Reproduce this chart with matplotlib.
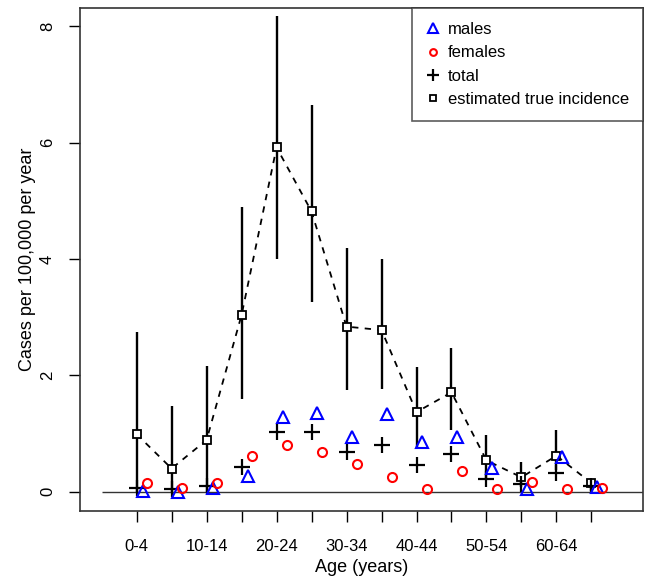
import matplotlib.pyplot as plt
import numpy as np

plt.rcParams['font.family'] = ['Liberation Sans', 'DejaVu Sans']

ages = ["0-4", "5-9", "10-14", "15-19", "20-24", "25-29", "30-34",
        "35-39", "40-44", "45-49", "50-54", "55-59", "60-64", "65-69"]
males = [0.01, 0.0, 0.07, 0.27, 1.28, 1.35, 0.94, 1.33, 0.85, 0.95, 0.41, 0.05, 0.60, 0.09]
females = [0.15, 0.07, 0.15, 0.62, 0.81, 0.68, 0.48, 0.26, 0.05, 0.36, 0.05, 0.17, 0.05, 0.07]
total = [0.07, 0.05, 0.10, 0.42, 1.03, 1.02, 0.69, 0.80, 0.46, 0.65, 0.22, 0.13, 0.32, 0.10]
est = [0.99, 0.40, 0.89, 3.04, 5.92, 4.82, 2.84, 2.78, 1.37, 1.71, 0.54, 0.25, 0.62, 0.15]
est_lo = [0.0, 0.0, 0.0, 1.60, 4.00, 3.26, 1.75, 1.76, 0.76, 1.07, 0.21, 0.09, 0.38, 0.02]
est_hi = [2.74, 1.47, 2.17, 4.90, 8.18, 6.65, 4.19, 4.00, 2.14, 2.48, 0.98, 0.51, 1.07, 0.22]

x = np.arange(1, len(ages) + 1)

fig = plt.figure(figsize=(6.5, 5.77), dpi=100)
ax = fig.add_axes([0.123, 0.1144, 0.866, 0.872])

ax.hlines(0, 0, 16, color='#333333', lw=1)
ax.vlines(x, est_lo, est_hi, color='black', lw=1.7)
ax.plot(x, est, color='black', ls=(0, (3.5, 3.5)), lw=1.3)
ax.plot(x, est, 's', mfc='white', mec='black', ms=5.5, mew=1.3, ls='none',
        label='estimated true incidence')
ax.plot(x, total, '+', color='black', ms=11, mew=1.6, ls='none', label='total')
ax.plot(x + 0.17, males, '^', mfc='none', mec='blue', ms=9, mew=1.5, ls='none',
        label='males')
ax.plot(x + 0.3, females, 'o', mfc='none', mec='red', ms=6.5, mew=1.5, ls='none',
        label='females')

ax.set_xlim(-0.62, 15.47)
ax.set_ylim(-0.33, 8.32)
ax.set_xticks(x)
ax.set_xticklabels([a if i % 2 == 0 else "" for i, a in enumerate(ages)], fontsize=12)
ax.set_yticks([0, 2, 4, 6, 8])
ax.set_yticklabels(["0", "2", "4", "6", "8"], fontsize=12, rotation=90, va='center')
ax.tick_params(direction='out', length=8, width=1, pad=10)
ax.tick_params(axis='x', pad=12)
ax.set_xlabel("Age (years)", fontsize=13, labelpad=4)
ax.set_ylabel("Cases per 100,000 per year", fontsize=13, labelpad=3)
for s in ax.spines.values():
    s.set_color('#333333')
    s.set_linewidth(1.2)

h, l = ax.get_legend_handles_labels()
order = [2, 3, 1, 0]
leg = ax.legend([h[i] for i in order], [l[i] for i in order], loc='upper right',
                bbox_to_anchor=(1, 1), borderaxespad=0, fancybox=False,
                edgecolor='#333333', fontsize=12, handlelength=0.8, handletextpad=0.5,
                labelspacing=0.5, borderpad=0.85, markerscale=0.75)
leg.get_frame().set_linewidth(1.2)

plt.savefig("out.png")
